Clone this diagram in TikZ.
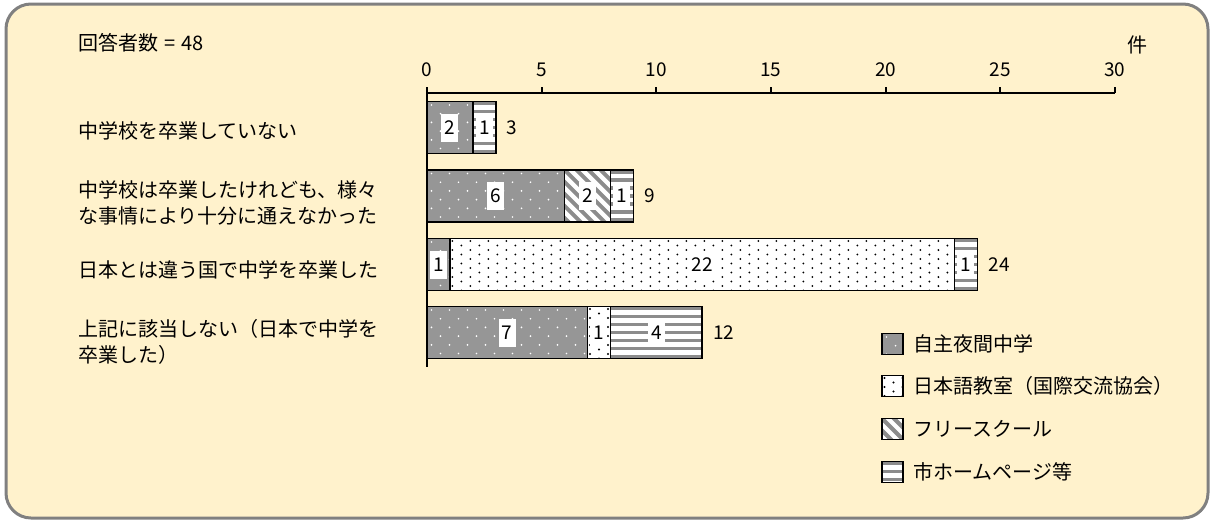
\documentclass[tikz,border=0pt]{standalone}
\usepackage{fontspec}
\setmainfont{Noto Sans CJK JP}
\definecolor{bgcream}{HTML}{FFF2CC}
\definecolor{framegray}{HTML}{808080}
\definecolor{barGray}{HTML}{969696}
\definecolor{stripeGray}{HTML}{8C8C8C}
\tikzset{
  jp/.style={font=\fontsize{20}{26}\selectfont},
  num/.style={font=\fontsize{19}{21}\selectfont},
  catlab/.style={jp, anchor=west, inner sep=0pt, align=left},
  valbox/.style={num, fill=white, inner sep=0pt, inner xsep=2pt, minimum width=17pt, minimum height=28pt},
  seg/.style={inner sep=0pt, outer sep=0pt, minimum height=52pt, anchor=west},
  jishu/.style={seg, fill=barGray},
  nihongo/.style={seg, fill=white},
  free/.style={seg, fill=white},
  hp/.style={seg, fill=white},
  legsq/.style={minimum width=21pt, minimum height=21pt, anchor=center},
  axisline/.style={draw=black, line width=1.8pt},
  segborder/.style={draw=black, line width=1.6pt},
}
\newcommand\patjishu{%
  \foreach \j in {0,...,6}{%
    \pgfmathsetmacro\off{mod(\j,2)*9}%
    \foreach \i in {0,...,9}{\fill[white] (\off+4.5+18*\i, 3.5+8.7*\j) circle (0.95);}%
  }}
\newcommand\patnihongo{%
  \foreach \i in {0,...,57}{%
    \pgfmathsetmacro\off{mod(\i,2)*4.5}%
    \foreach \j in {0,...,6}{\fill[black] (2.5+9*\i, 2.5+\off+9*\j) circle (1.05);}%
  }}
\newcommand\patfree{%
  \foreach \i in {-6,...,6}{\draw[stripeGray, line width=4pt] (12*\i-3,-3) -- ++(62,62);}}
\newcommand\pathp{%
  \foreach \j in {0,...,8}{\draw[stripeGray, line width=3.5pt] (-2,2+8*\j) -- ++(200,0);}}
\newcommand\mypat[2]{%
  \begin{scope}
    \clip (#1.south west) rectangle (#1.north east);
    \begin{scope}[shift={(#1.north west)}]
      \csname pat#2\endcsname
    \end{scope}
  \end{scope}
  \draw[segborder] (#1.south west) rectangle (#1.north east);
}
\begin{document}
\begin{tikzpicture}[x=1pt, y=-1pt]
\useasboundingbox (0,0) rectangle (1215,523);
\fill[white] (0,0) rectangle (1215,523);
\draw[framegray, line width=3pt, fill=bgcream, rounded corners=25pt] (6,4) rectangle (1208,518);

% header
\node[jp, anchor=west, inner sep=0pt] (resp) at (78,43) {回答者数\hspace{6pt}=\hspace{6pt}48};
\node[jp, inner sep=0pt] (unit) at (1137,45) {件};

% axis
\foreach \v in {0,5,...,30}{
  \node[num, inner sep=0pt] (tick\v) at ({427+22.93*\v},70) {\v};
  \draw[axisline] ({427+22.93*\v},87) -- ({427+22.93*\v},93);
}
\draw[axisline] (427,93) -- (1114.9,93);

% category labels
\node[catlab] (c1) at (78,131) {中学校を卒業していない};
\node[catlab] (c2) at (78,203) {中学校は卒業したけれども、様々\\な事情により十分に通えなかった};
\node[catlab] (c3) at (78,270) {日本とは違う国で中学を卒業した};
\node[catlab] (c4) at (78,341.5) {上記に該当しない（日本で中学を\\卒業した）};

% bar 1
\node[jishu, minimum width=45.86pt] (b1a) at (427,127.5) {};
\node[hp, minimum width=22.93pt] (b1b) at (b1a.east) {};
\mypat{b1a}{jishu}\mypat{b1b}{hp}
\node[valbox] (v1a) at (b1a.center) {2};
\node[valbox] (v1b) at (b1b.center) {1};
\node[num, anchor=west, inner sep=0pt] (t1) at ([xshift=11pt]b1b.east) {3};

% bar 2
\node[jishu, minimum width=137.58pt] (b2a) at (427,196) {};
\node[free, minimum width=45.86pt] (b2b) at (b2a.east) {};
\node[hp, minimum width=22.93pt] (b2c) at (b2b.east) {};
\mypat{b2a}{jishu}\mypat{b2b}{free}\mypat{b2c}{hp}
\node[valbox] (v2a) at (b2a.center) {6};
\node[valbox] (v2b) at (b2b.center) {2};
\node[valbox] (v2c) at (b2c.center) {1};
\node[num, anchor=west, inner sep=0pt] (t2) at ([xshift=11pt]b2c.east) {9};

% bar 3
\node[jishu, minimum width=22.93pt] (b3a) at (427,264.5) {};
\node[nihongo, minimum width=504.46pt] (b3b) at (b3a.east) {};
\node[hp, minimum width=22.93pt] (b3c) at (b3b.east) {};
\mypat{b3a}{jishu}\mypat{b3b}{nihongo}\mypat{b3c}{hp}
\node[valbox] (v3a) at (b3a.center) {1};
\node[valbox] (v3b) at (b3b.center) {22};
\node[valbox] (v3c) at (b3c.center) {1};
\node[num, anchor=west, inner sep=0pt] (t3) at ([xshift=11pt]b3c.east) {24};

% bar 4
\node[jishu, minimum width=160.51pt] (b4a) at (427,332.5) {};
\node[nihongo, minimum width=22.93pt] (b4b) at (b4a.east) {};
\node[hp, minimum width=91.72pt] (b4c) at (b4b.east) {};
\mypat{b4a}{jishu}\mypat{b4b}{nihongo}\mypat{b4c}{hp}
\node[valbox] (v4a) at (b4a.center) {7};
\node[valbox] (v4b) at (b4b.center) {1};
\node[valbox] (v4c) at (b4c.center) {4};
\node[num, anchor=west, inner sep=0pt] (t4) at ([xshift=11pt]b4c.east) {12};

% vertical axis
\draw[axisline] (427,87) -- (427,367);

% legend
\node[jishu, legsq] (l1) at (892.5,344) {};
\node[nihongo, legsq] (l2) at (892.5,386) {};
\node[free, legsq] (l3) at (892.5,429) {};
\node[hp, legsq] (l4) at (892.5,472) {};
\mypat{l1}{jishu}\mypat{l2}{nihongo}\mypat{l3}{free}\mypat{l4}{hp}
\node[jp, anchor=west, inner sep=0pt] (lt1) at (913,344) {自主夜間中学};
\node[jp, anchor=west, inner sep=0pt] (lt2) at (913,386) {日本語教室（国際交流協会）};
\node[jp, anchor=west, inner sep=0pt] (lt3) at (913,429) {フリースクール};
\node[jp, anchor=west, inner sep=0pt] (lt4) at (913,472) {市ホームページ等};
\end{tikzpicture}
\end{document}
